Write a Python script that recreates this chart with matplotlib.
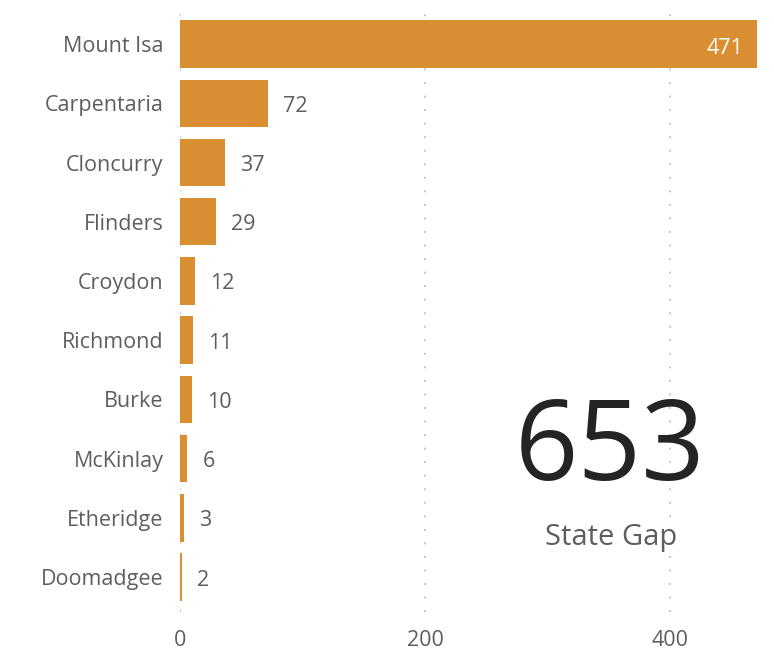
import matplotlib
matplotlib.use("Agg")
import matplotlib.pyplot as plt

categories = ["Mount Isa", "Carpentaria", "Cloncurry", "Flinders", "Croydon",
              "Richmond", "Burke", "McKinlay", "Etheridge", "Doomadgee"]
values = [471, 72, 37, 29, 12, 11, 10, 6, 3, 2]
xticks = [0, 200, 400]
total_value = "653"
total_label = "State Gap"

plt.rcParams['font.family'] = ['Open Sans', 'DejaVu Sans']
grey = "#605E5C"
bar_color = "#D98F31"
fs = 15.5

fig = plt.figure(figsize=(7.74, 6.55), dpi=100)
ax = fig.add_axes([180/774, (655-612)/655, 577/774, 607/655])

y = list(range(len(categories)))
ax.barh(y, values, height=0.8, color=bar_color, zorder=2)
ax.set_xlim(0, 471)
ax.set_ylim(9.59, -0.66)
ax.set_yticks(y)
ax.set_yticklabels(categories, fontsize=fs, color=grey)
ax.set_xticks(xticks)
ax.set_xticklabels([str(t) for t in xticks], fontsize=fs, color=grey)
ax.tick_params(length=0)
ax.tick_params(axis='y', pad=12)
ax.tick_params(axis='x', pad=13)
for s in ax.spines.values():
    s.set_visible(False)
for t in xticks:
    ax.axvline(t, color="#BDBDBD", linewidth=1.3, linestyle=(0, (1, 6.5)), zorder=1)

xmax = ax.get_xlim()[1]
for yi, v in zip(y, values):
    if v > xmax * 0.8:
        ax.annotate(str(v), (v, yi), xytext=(-14, -4), textcoords="offset pixels",
                    ha="right", va="center", color="white", fontsize=fs)
    else:
        ax.annotate(str(v), (v, yi), xytext=(15, -3), textcoords="offset pixels",
                    ha="left", va="center", color=grey, fontsize=fs)

fig.text(610/774, 1 - 451/655, total_value, fontsize=80, color="#252423",
         ha="center", va="center")
fig.text(611/774, 1 - 537/655, total_label, fontsize=21, color=grey,
         ha="center", va="center")

fig.savefig("out.png", dpi=100)
